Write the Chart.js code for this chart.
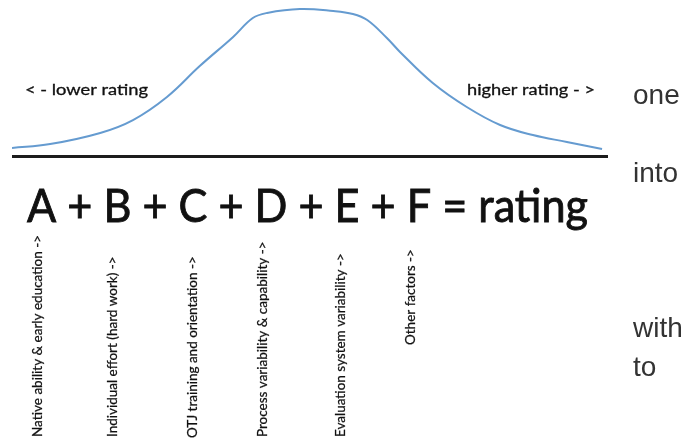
<!DOCTYPE html>
<html>
<head>
<meta charset="utf-8">
<script src="https://cdn.jsdelivr.net/npm/chart.js@4.4.1/dist/chart.umd.min.js"></script>
<style>
html, body { margin: 0; padding: 0; background: #fff; }
#wrap { position: relative; width: 697px; height: 440px; overflow: hidden; }
#chart { position: absolute; left: 0; top: 0; }
.word { position: absolute; left: 633px; font-family: "Liberation Sans", Arial, sans-serif; font-size: 28px; line-height: 28px; color: #333; }
</style>
</head>
<body>
<div id="wrap">
  <canvas id="chart" width="697" height="440"></canvas>
  <div class="word" style="top:81px">one</div>
  <div class="word" style="top:159px">into</div>
  <div class="word" style="top:314px">with</div>
  <div class="word" style="top:353px">to</div>
</div>
<script>
// rating scale (0 = lowest, 100 = highest) and relative frequency of the curve
const ratingX = [0, 6.4, 14.8, 20.3, 26.0, 31.5, 37.1, 40.4, 42.8, 48.3, 53.9, 57.2, 59.6, 62.9, 65.1, 70.6, 76.3, 81.9, 87.4, 93.1, 99.0];
const frequency = [4.7, 7.3, 14.7, 23.3, 38.7, 59.3, 78.7, 91.3, 94.7, 97.3, 96.0, 94.0, 90.0, 78.0, 68.7, 48.0, 32.0, 20.0, 13.3, 8.7, 4.0];

const sideLabels = ['< - lower rating', 'higher rating - >'];
const formulaText = 'A + B + C + D + E + F = rating';
const factorLabels = [
    'Native ability & early education ->',
    'Individual effort (hard work) ->',
    'OTJ training and orientation ->',
    'Process variability & capability ->',
    'Evaluation system variability ->',
    'Other factors ->'
];

// where the annotation texts sit (baseline x / bottom y for the rotated ones)
const factorBaseX = [42, 117, 197, 267, 345, 415];
const factorBottomY = [437, 437, 438, 437, 437, 345];

function fitText(ctx, text, x, y, width, stroke) {
    const w = ctx.measureText(text).width;
    ctx.save();
    ctx.translate(x, y);
    ctx.scale(width / w, 1);
    ctx.fillText(text, 0, 0);
    if (stroke) ctx.strokeText(text, 0, 0);
    ctx.restore();
}

const annotations = {
    id: 'annotations',
    beforeDatasetsDraw(chart) {
        const ctx = chart.ctx;
        const area = chart.chartArea;
        const yBase = chart.scales.y.getPixelForValue(0) + 1.5;
        ctx.save();
        ctx.strokeStyle = '#1c1c1c';
        ctx.lineWidth = 3;
        ctx.beginPath();
        ctx.moveTo(area.left, yBase);
        ctx.lineTo(area.right, yBase);
        ctx.stroke();
        ctx.restore();
    },
    afterDraw(chart) {
        const ctx = chart.ctx;
        ctx.save();
        ctx.fillStyle = '#111';
        ctx.strokeStyle = '#111';
        ctx.textBaseline = 'alphabetic';

        ctx.font = '15px Lato';
        ctx.lineWidth = 0.3;
        fitText(ctx, sideLabels[0], 25, 95, 123, true);
        fitText(ctx, sideLabels[1], 467, 95, 128, true);

        ctx.font = '46px Lato';
        ctx.lineWidth = 0.9;
        fitText(ctx, formulaText, 27, 222, 561, true);

        // vertical factor labels, read bottom to top
        ctx.font = '13px Lato';
        ctx.lineWidth = 0.25;
        const s = 202 / ctx.measureText(factorLabels[0]).width;
        factorLabels.forEach((t, i) => {
            ctx.save();
            ctx.translate(factorBaseX[i], factorBottomY[i]);
            ctx.rotate(-Math.PI / 2);
            ctx.scale(s, 1);
            ctx.fillText(t, 0, 0);
            ctx.strokeText(t, 0, 0);
            ctx.restore();
        });
        ctx.restore();
    }
};

new Chart(document.getElementById('chart'), {
    type: 'line',
    data: {
        datasets: [{
            data: ratingX.map((x, i) => ({ x: x, y: frequency[i] })),
            borderColor: '#659bd0',
            borderWidth: 2,
            pointRadius: 0,
            fill: false,
            tension: 0.4
        }]
    },
    options: {
        responsive: false,
        animation: false,
        devicePixelRatio: 1,
        layout: { padding: { left: 12, right: 89, top: 5, bottom: 285 } },
        plugins: { legend: { display: false }, tooltip: { enabled: false } },
        scales: {
            x: { type: 'linear', min: 0, max: 100, display: false },
            y: { min: 0, max: 100, display: false }
        }
    },
    plugins: [annotations]
});
</script>
</body>
</html>
